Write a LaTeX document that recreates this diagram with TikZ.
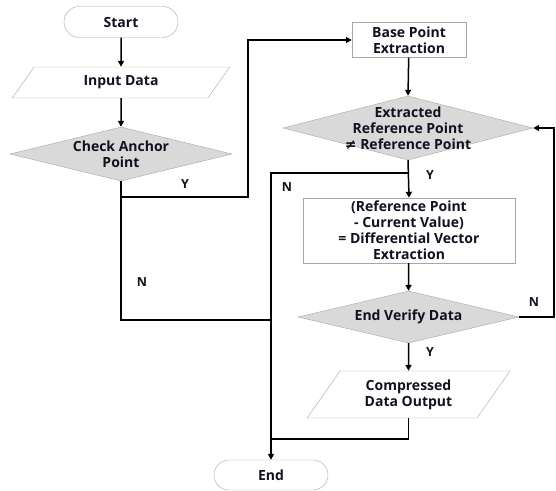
\documentclass[tikz,border=0pt]{standalone}
\usepackage{fontspec}
\setmainfont{Open Sans}
\newfontfamily\symfont{DejaVu Sans}
\usepackage{tikz}
\usetikzlibrary{positioning,arrows.meta,shapes.geometric,shapes.misc}
\definecolor{BoxLine}{HTML}{A6A6A6}
\definecolor{DecFill}{HTML}{D9D9D9}
\definecolor{InkDark}{HTML}{111122}

\begin{document}
\begin{tikzpicture}[x=1pt,y=-1pt,
          every node/.style={font=\fontsize{14}{16}\selectfont\bfseries,
                             text=InkDark,align=center,inner sep=0pt},
          terminal/.style={rounded rectangle,draw=BoxLine,thin,fill=white,
                           minimum width=114pt,minimum height=31pt},
          process/.style={rectangle,draw=BoxLine,thin,fill=white},
          io/.style={trapezium,trapezium left angle=55,trapezium right angle=125,
                     draw=BoxLine,thin,fill=white},
          decision/.style={diamond,draw=BoxLine,thin,fill=DecFill},
          flow/.style={draw=black,line width=1.5pt},
          arrow/.style={flow,-{Triangle[length=6pt,width=6pt]}},
          yn/.style={font=\fontsize{12.5}{14}\selectfont\bfseries}]
        \useasboundingbox (0,0) rectangle (556,490);
        % left column
        \node[terminal] (start) at (121,22) {Start};
        \node[io,minimum width=162pt,minimum height=31pt] (input) at (121,82.5) {Input Data};
        \node[decision,minimum width=222pt,minimum height=54pt,
              label={[align=center]center:Check Anchor\\Point}] (check) at (121,154) {};
        % right column
        \node[process,minimum width=114pt,minimum height=35pt] (base) at (409,40) {Base Point\\Extraction};
        \node[decision,minimum width=250pt,minimum height=64pt,
              label={[align=center]center:Extracted\\Reference Point\\{\symfont≠} Reference Point}] (refchk) at (408,128) {};
        \node[process,minimum width=212pt,minimum height=65pt] (diff) at (409,230.5)
              {(Reference Point\\- Current Value)\\= Differential Vector\\Extraction};
        \node[decision,minimum width=221pt,minimum height=52pt,
              label={center:End Verify Data}] (verify) at (408.5,317) {};
        \node[io,minimum width=187pt,minimum height=47pt] (output) at (408.5,394.5) {Compressed\\Data Output};
        \node[terminal,minimum height=30pt] (end) at (271,475) {End};
        % junctions
        \coordinate (ySplit) at (121,197);
        \coordinate (yCorner) at (248,40);
        \coordinate (nJoin) at (271,320);
        \coordinate (nSplit) at (409,173);
        \coordinate (outJoin) at (271,439);
        \coordinate (loopR) at (554,317);
        % connectors
        \draw[arrow] (start) -- (input);
        \draw[arrow] (input) -- (check);
        \draw[flow] (check.south) |- (nJoin);
        \draw[arrow] (ySplit) -| (yCorner) -- (base.west);
        \draw[arrow] (base) -- (refchk.north);
        \draw[arrow] (refchk.south) -- (diff.north);
        \draw[arrow] (nSplit) -| (end.north);
        \draw[arrow] (diff) -- (verify.north);
        \draw[arrow] (verify.south) -- (output.north);
        \draw[arrow] (verify.east) -- (loopR) |- (refchk.east);
        \draw[flow] (output.south) |- (outJoin);
        % branch labels
        \node[yn] (y1) at (185,184) {Y};
        \node[yn] (n1) at (142,282) {N};
        \node[yn] (n2) at (287,187) {N};
        \node[yn] (y2) at (430,175) {Y};
        \node[yn] (n3) at (534,302) {N};
        \node[yn] (y3) at (430,352) {Y};
      \end{tikzpicture}
\end{document}
